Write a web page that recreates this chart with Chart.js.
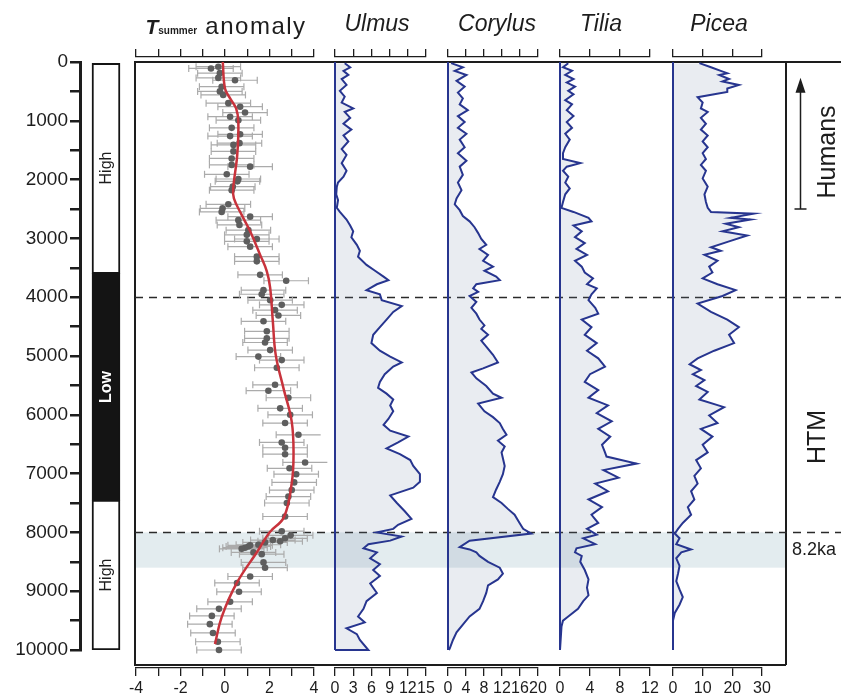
<!DOCTYPE html>
<html>
<head>
<meta charset="utf-8">
<title>Holocene summer temperature and tree pollen</title>
<script src="https://cdn.jsdelivr.net/npm/chart.js@4.4.1/dist/chart.umd.min.js"></script>
<style>
  html, body { margin: 0; padding: 0; background: #fff; }
  #stage { position: relative; width: 841px; height: 699px; overflow: hidden;
           font-family: "Liberation Sans", Arial, sans-serif; color: #1d1d1d; }
  #stage canvas { position: absolute; top: 0; }
  .lbl { position: absolute; white-space: nowrap; line-height: 1; }
  .rot { transform: translate(-50%, -50%) rotate(-90deg); }
  .taxon { font-style: italic; font-size: 23px; top: 12px; transform: translateX(-50%); }
</style>
</head>
<body>
<div id="stage"></div>
<script>
// ---- data (ages in cal yr BP) ----

// insolation / "High-Low" zones on the left column
const zoneBounds = [0, 3600, 7450, 10000];
const zoneLabels = ["High", "Low", "High"];

// dashed event lines, 8.2 ka band and the "Humans" arrow span
const eventAges = [4000, 8000];
const band82 = [8000, 8600];
const humansSpan = [2500, 300];

// T summer anomaly reconstruction: [age, anomaly]
const tempPoints = [
  [80, -0.30], [110, -0.63], [190, -0.23], [270, -0.30], [310, 0.45], [420, -0.15],
  [500, -0.23], [560, -0.08], [700, 0.15], [760, 0.68], [860, 0.90], [930, 0.23],
  [990, 0.60], [1120, 0.30], [1230, 0.68], [1260, 0.23], [1380, 0.65], [1410, 0.38],
  [1520, 0.38], [1640, 0.30], [1750, 0.30], [1780, 1.13], [1910, 0.08], [1990, 0.60],
  [2030, 0.56], [2120, 0.35], [2180, 0.30], [2420, 0.15], [2490, -0.11], [2550, -0.15],
  [2630, 1.13], [2690, 0.60], [2770, 0.65], [2860, 1.05], [2940, 0.98], [3010, 1.43],
  [3050, 0.98], [3140, 1.13], [3310, 1.43], [3390, 1.43], [3620, 1.58], [3720, 2.75],
  [3880, 1.73], [3950, 1.65], [4050, 2.03], [4130, 2.55], [4220, 2.25], [4310, 2.40],
  [4410, 1.73], [4580, 1.88], [4700, 1.88], [4770, 1.80], [4900, 2.03], [5010, 1.50],
  [5070, 2.55], [5200, 2.33], [5490, 2.25], [5590, 1.95], [5710, 2.85], [5890, 2.48],
  [6000, 2.93], [6140, 2.70], [6340, 3.30], [6470, 2.55], [6560, 2.70], [6670, 2.70],
  [6810, 3.60], [6910, 2.90], [7010, 3.20], [7150, 3.11], [7280, 3.00], [7390, 2.85],
  [7500, 2.78], [7730, 2.70], [7980, 2.55], [8050, 2.95], [8100, 2.70], [8130, 2.15],
  [8150, 2.48], [8170, 1.80], [8210, 1.50], [8220, 1.13], [8240, 1.05], [8260, 0.90],
  [8280, 0.75], [8340, 1.28], [8370, 1.65], [8510, 1.73], [8600, 1.80], [8750, 1.13],
  [8860, 0.54], [9010, 0.63], [9180, 0.23], [9300, -0.27], [9420, -0.59], [9560, -0.68],
  [9710, -0.54], [9860, -0.32], [10000, -0.27]
];
const tempErr = 1.0;

// smoothed trend (red line): [age, anomaly]
const tempTrend = [
  [0, -0.10], [450, 0.00], [620, 0.23], [790, 0.50], [1020, 0.60], [1580, 0.55],
  [2150, 0.37], [2320, 0.40], [2600, 0.75], [2880, 1.13], [3280, 1.58], [3560, 1.88],
  [3840, 2.03], [4410, 2.15], [4980, 2.28], [5550, 2.63], [6120, 3.00], [6680, 3.08],
  [7160, 3.00], [7740, 2.65], [8000, 2.00], [8300, 1.50], [8860, 0.53], [9440, -0.15],
  [9900, -0.45]
];

// pollen percentages: [age, %]
const ulmus = [
  [20, 1.6], [90, 2.5], [150, 1.4], [220, 2.2], [290, 1.1], [390, 1.9], [490, 0.8],
  [590, 1.6], [690, 1.1], [790, 3.0], [850, 1.6], [950, 2.5], [1050, 1.4], [1150, 2.7],
  [1250, 1.4], [1350, 2.2], [1480, 1.1], [1580, 1.9], [1720, 1.1], [1850, 1.9], [1950, 1.4],
  [2050, 0.5], [2120, 0.3], [2250, 0.2], [2350, 0.5], [2480, 0.3], [2550, 0.8], [2680, 1.9],
  [2780, 2.5], [2880, 3.0], [2980, 2.7], [3110, 3.6], [3210, 4.1], [3310, 3.8], [3450, 5.2],
  [3550, 6.6], [3650, 8.0], [3710, 8.8], [3780, 6.9], [3880, 5.2], [3950, 7.4], [4050, 7.7],
  [4150, 11.0], [4250, 9.6], [4380, 8.5], [4510, 7.4], [4640, 6.3], [4780, 6.0], [4910, 7.4],
  [5010, 9.1], [5110, 11.0], [5180, 9.6], [5310, 8.2], [5440, 7.4], [5540, 7.1], [5640, 8.5],
  [5740, 9.6], [5840, 9.1], [5940, 9.6], [6070, 8.8], [6170, 8.0], [6270, 9.1], [6370, 12.1],
  [6470, 10.4], [6570, 8.5], [6670, 10.7], [6770, 12.4], [6870, 12.9], [7010, 14.0],
  [7140, 14.0], [7240, 12.9], [7370, 9.1], [7500, 10.2], [7640, 11.5], [7770, 12.6],
  [7870, 10.4], [7940, 9.6], [8000, 6.9], [8070, 11.0], [8140, 9.1], [8200, 5.5], [8270, 4.7],
  [8340, 6.9], [8440, 5.8], [8540, 7.4], [8640, 6.3], [8740, 7.4], [8870, 5.8], [9030, 6.9],
  [9170, 5.2], [9300, 4.7], [9430, 3.8], [9530, 4.9], [9630, 1.9], [9730, 3.6], [9830, 4.1],
  [10000, 5.5], [10000, 0]
];

const corylus = [
  [20, 0.7], [90, 3.3], [150, 1.5], [220, 4.1], [320, 1.9], [420, 3.7], [520, 2.2],
  [620, 3.3], [720, 2.6], [820, 4.4], [920, 2.2], [1020, 3.7], [1120, 2.2], [1220, 4.1],
  [1320, 2.6], [1450, 3.7], [1550, 2.2], [1680, 4.1], [1780, 2.6], [1920, 3.3], [2050, 2.2],
  [2180, 3.0], [2320, 1.9], [2420, 1.5], [2520, 2.6], [2620, 3.3], [2710, 4.8], [2810, 5.9],
  [2910, 6.7], [3010, 7.4], [3110, 8.5], [3180, 7.0], [3280, 8.9], [3380, 7.8], [3480, 10.0],
  [3550, 8.1], [3650, 10.7], [3710, 11.5], [3780, 6.3], [3850, 5.6], [3910, 6.7], [3980, 4.8],
  [4080, 6.3], [4180, 5.2], [4280, 6.3], [4380, 7.0], [4480, 8.1], [4540, 7.4], [4640, 8.9],
  [4740, 7.4], [4840, 8.5], [4980, 10.0], [5110, 11.1], [5210, 7.8], [5280, 5.2], [5380, 6.3],
  [5510, 8.5], [5640, 10.0], [5710, 11.9], [5810, 6.7], [5940, 8.1], [6040, 10.0], [6140, 11.5],
  [6240, 12.2], [6340, 13.0], [6440, 11.1], [6540, 12.6], [6640, 11.9], [6740, 12.2],
  [6870, 12.6], [7010, 12.2], [7140, 11.5], [7270, 10.7], [7400, 10.0], [7500, 11.9],
  [7600, 13.3], [7700, 14.8], [7840, 15.9], [7940, 16.7], [8020, 18.5], [8140, 4.8],
  [8250, 2.6], [8290, 4.8], [8340, 6.3], [8400, 7.0], [8500, 8.9], [8600, 11.5], [8700, 12.2],
  [8800, 11.1], [8900, 8.9], [9030, 8.5], [9170, 7.8], [9300, 7.0], [9430, 4.8], [9570, 3.3],
  [9700, 1.9], [9830, 1.1], [9970, 0.4], [10000, 0.2]
];

const tilia = [
  [20, 1.1], [90, 0.4], [150, 1.6], [220, 0.7], [290, 1.8], [350, 0.9], [420, 2.0],
  [490, 1.1], [550, 1.8], [650, 0.7], [720, 1.6], [820, 0.9], [920, 1.8], [1020, 0.9],
  [1120, 1.6], [1220, 0.7], [1320, 1.3], [1450, 0.7], [1550, 0.4], [1650, 0.4], [1720, 2.7],
  [1780, 0.9], [1850, 0.4], [1950, 1.1], [2050, 0.7], [2150, 1.3], [2250, 0.7], [2380, 0.4],
  [2480, 0.2], [2550, 1.8], [2650, 3.8], [2710, 4.2], [2780, 1.8], [2880, 2.9], [2980, 2.0],
  [3080, 3.3], [3180, 2.2], [3280, 3.6], [3380, 2.0], [3480, 2.9], [3580, 3.3], [3680, 4.4],
  [3780, 3.6], [3850, 4.9], [3950, 4.2], [4050, 3.8], [4180, 4.7], [4280, 5.1], [4380, 2.9],
  [4510, 4.2], [4640, 3.3], [4780, 4.9], [4910, 3.6], [5040, 5.1], [5180, 6.0], [5310, 4.0],
  [5440, 3.3], [5580, 5.1], [5710, 3.8], [5840, 6.4], [5970, 4.9], [6110, 6.9], [6240, 5.1],
  [6370, 6.7], [6510, 5.6], [6640, 6.0], [6710, 6.2], [6830, 10.2], [6940, 5.8], [7070, 7.8],
  [7170, 4.7], [7300, 6.4], [7440, 3.8], [7570, 5.6], [7700, 4.2], [7840, 5.1], [7940, 3.6],
  [8040, 4.9], [8100, 3.1], [8200, 4.7], [8270, 2.2], [8340, 2.0], [8400, 2.9], [8500, 2.7],
  [8640, 3.3], [8800, 3.8], [8940, 3.6], [9070, 3.8], [9170, 3.1], [9300, 2.4], [9430, 1.1],
  [9500, 0.4], [9600, 0.2], [10000, 0]
];

const picea = [
  [20, 8.9], [90, 12.8], [150, 16.1], [190, 18.3], [220, 15.6], [290, 18.9], [330, 16.7],
  [390, 22.2], [450, 18.3], [510, 18.3], [550, 13.9], [600, 8.3], [690, 10.0], [790, 9.4],
  [850, 11.7], [950, 9.4], [1050, 11.1], [1150, 9.4], [1250, 11.7], [1350, 10.0], [1450, 11.7],
  [1550, 10.0], [1650, 11.1], [1750, 9.4], [1850, 11.1], [1980, 10.0], [2120, 11.7],
  [2250, 10.6], [2380, 11.1], [2480, 11.7], [2550, 12.8], [2580, 27.2], [2650, 19.4],
  [2680, 26.1], [2750, 17.8], [2810, 22.2], [2880, 16.7], [2950, 25.0], [3050, 18.9],
  [3150, 12.8], [3210, 16.1], [3280, 10.6], [3380, 15.0], [3480, 12.2], [3580, 13.3],
  [3680, 10.0], [3780, 15.0], [3880, 21.1], [3980, 16.7], [4110, 8.3], [4250, 12.8],
  [4380, 18.3], [4510, 22.2], [4640, 18.9], [4780, 20.6], [4910, 13.9], [5040, 8.3],
  [5140, 5.6], [5240, 9.4], [5310, 6.7], [5410, 10.6], [5510, 7.8], [5610, 11.7], [5740, 8.9],
  [5870, 17.2], [6010, 12.2], [6140, 15.0], [6240, 9.4], [6370, 13.3], [6510, 10.0],
  [6640, 11.7], [6770, 7.8], [6910, 9.4], [7040, 7.2], [7170, 8.3], [7300, 6.1], [7440, 7.2],
  [7570, 5.0], [7700, 6.1], [7840, 3.3], [7940, 1.7], [8020, 0.6], [8100, 2.2], [8200, 1.1],
  [8290, 6.1], [8340, 2.8], [8440, 1.1], [8570, 2.2], [8700, 1.7], [8830, 1.1], [8970, 2.2],
  [9100, 3.3], [9230, 2.2], [9370, 0.6], [9500, 0], [10000, 0]
];

// x-axis ranges of each panel
const tempAxis = { min: -4, max: 4, step: 1 };
const taxa = [
  { name: "Ulmus",   series: ulmus,   max: 15, step: 3 },
  { name: "Corylus", series: corylus, max: 20, step: 4 },
  { name: "Tilia",   series: tilia,   max: 12, step: 4 },
  { name: "Picea",   series: picea,   max: 30, step: 10 }
];

// ---- layout (pixels) ----
const W = 841, H = 699;
const PX_TOP = 62, PX_BOTTOM = 650;      // where age 0 and 10000 sit
const AXIS_TOP = 57, AXIS_BOTTOM = 668;  // top / bottom x-axis lines
const FRAME = { left: 135, right: 786, top: 62, bottom: 665, lineEnd: 841 };
const tempBox = [136, 314];
const taxonBox = { Ulmus: [335, 426], Corylus: [448, 538], Tilia: [560, 650], Picea: [673, 762] };
const taxonTitleX = { Ulmus: 377, Corylus: 497, Tilia: 601, Picea: 719 };

const INK = "#1d1d1d";
const POLLEN_LINE = "#27358f";
const POLLEN_FILL = "rgba(110, 125, 160, 0.15)";

Chart.defaults.font.family = '"Liberation Sans", Arial, sans-serif';
Chart.defaults.color = INK;

const stage = document.getElementById("stage");
const yrPerPx = 10000 / (PX_BOTTOM - PX_TOP);
const yPx = (age) => PX_TOP + age / yrPerPx;

function makeCanvas(left, width) {
  const c = document.createElement("canvas");
  c.width = width;
  c.height = H;
  c.style.left = left + "px";
  c.style.width = width + "px";
  c.style.height = H + "px";
  stage.appendChild(c);
  return c;
}

function addLabel(text, x, y, cls, style) {
  const d = document.createElement("div");
  d.className = "lbl " + (cls || "");
  d.textContent = text;
  d.style.left = x + "px";
  d.style.top = y + "px";
  Object.assign(d.style, style || {});
  stage.appendChild(d);
  return d;
}

const baseOptions = {
  responsive: false,
  animation: false,
  events: [],
  plugins: { legend: { display: false }, tooltip: { enabled: false } }
};

// ---- background: band, frame, dashed event lines, humans arrow ----
const decor = {
  id: "decor",
  beforeDraw(chart) {
    const { ctx, scales: { y } } = chart;
    ctx.save();
    // 8.2 ka band
    const b0 = y.getPixelForValue(band82[0]);
    const b1 = y.getPixelForValue(band82[1]);
    ctx.fillStyle = "#e3ecef";
    ctx.fillRect(FRAME.left, b0, FRAME.right - FRAME.left, b1 - b0);

    // frame
    ctx.strokeStyle = INK;
    ctx.lineWidth = 2;
    ctx.beginPath();
    ctx.moveTo(FRAME.lineEnd, FRAME.top);
    ctx.lineTo(FRAME.left, FRAME.top);
    ctx.lineTo(FRAME.left, FRAME.bottom);
    ctx.lineTo(FRAME.right, FRAME.bottom);
    ctx.moveTo(FRAME.right, FRAME.top);
    ctx.lineTo(FRAME.right, FRAME.bottom);
    ctx.stroke();

    // dashed lines
    ctx.setLineDash([8, 6]);
    ctx.lineWidth = 1.5;
    ctx.strokeStyle = "#2a2a2a";
    eventAges.forEach((a) => {
      const py = Math.round(y.getPixelForValue(a)) + 0.5;
      ctx.beginPath();
      ctx.moveTo(FRAME.left, py);
      ctx.lineTo(FRAME.lineEnd, py);
      ctx.stroke();
    });
    ctx.setLineDash([]);

    // humans arrow
    const ax = 800.5;
    const yLow = y.getPixelForValue(humansSpan[0]);
    const yHigh = y.getPixelForValue(humansSpan[1]);
    ctx.lineWidth = 1.5;
    ctx.strokeStyle = INK;
    ctx.beginPath();
    ctx.moveTo(ax, yLow);
    ctx.lineTo(ax, yHigh + 10);
    ctx.moveTo(ax - 6, yLow);
    ctx.lineTo(ax + 6, yLow);
    ctx.stroke();
    ctx.fillStyle = INK;
    ctx.beginPath();
    ctx.moveTo(ax, yHigh - 2);
    ctx.lineTo(ax - 5, yHigh + 13);
    ctx.lineTo(ax + 5, yHigh + 13);
    ctx.closePath();
    ctx.fill();
    ctx.restore();
  }
};

new Chart(makeCanvas(0, W), {
  type: "scatter",
  data: { datasets: [] },
  options: {
    ...baseOptions,
    layout: { padding: { top: PX_TOP, bottom: H - PX_BOTTOM, left: 0, right: 0 } },
    scales: {
      x: { display: false, min: 0, max: W },
      y: { display: false, min: 0, max: 10000, reverse: true }
    }
  },
  plugins: [decor]
});

// ---- age axis with High / Low column ----
new Chart(makeCanvas(0, FRAME.left), {
  type: "bar",
  data: {
    labels: ["zone"],
    datasets: zoneLabels.map((name, i) => ({
      data: [[zoneBounds[i], zoneBounds[i + 1]]],
      backgroundColor: name === "Low" ? "#141414" : "#ffffff",
      borderColor: "#141414",
      borderWidth: 2,
      borderSkipped: false,
      barThickness: 28,
      grouped: false
    }))
  },
  options: {
    ...baseOptions,
    layout: { padding: { top: PX_TOP, bottom: H - PX_BOTTOM, left: 0, right: 3 } },
    scales: {
      x: { display: false },
      y: {
        min: 0, max: 10000, reverse: true,
        afterFit: (s) => { s.width = 80; },
        ticks: {
          stepSize: 500, autoSkip: false, padding: 2,
          font: { size: 19 }, color: INK,
          callback: (v) => (v % 1000 === 0 ? String(v) : "")
        },
        grid: { drawOnChartArea: false, tickLength: 10, color: INK, lineWidth: 2.5 },
        border: { color: INK, width: 3 }
      }
    }
  }
});

zoneLabels.forEach((name, i) => {
  const mid = yPx((zoneBounds[i] + zoneBounds[i + 1]) / 2);
  addLabel(name, 106, mid, "rot", name === "Low"
    ? { color: "#fff", fontWeight: "bold", fontSize: "16px" }
    : { fontSize: "16px" });
});

// ---- one Chart per panel ----
function panelChart(box, axis, datasets, labelCb, indexY) {
  const pad = 22;
  const canvas = makeCanvas(box[0] - pad, box[1] - box[0] + 2 * pad);
  const xCommon = {
    type: "linear", min: axis.min, max: axis.max,
    grid: { drawOnChartArea: false, tickLength: 8, color: INK, lineWidth: 1.3 },
    border: { color: INK, width: 1.3 }
  };
  return new Chart(canvas, {
    type: indexY ? "line" : "scatter",
    data: { datasets },
    options: {
      ...baseOptions,
      indexAxis: indexY ? "y" : "x",
      layout: { padding: { left: pad, right: pad, top: AXIS_TOP - 8, bottom: 0 } },
      scales: {
        x: {
          ...xCommon, position: "bottom",
          afterFit: (s) => { s.height = H - AXIS_BOTTOM; },
          ticks: {
            stepSize: axis.step, autoSkip: false, maxRotation: 0, minRotation: 0,
            padding: 3, color: INK, font: { size: 16 }, callback: labelCb
          }
        },
        xTop: {
          ...xCommon, position: "top",
          afterFit: (s) => { s.height = 8; },
          ticks: { stepSize: axis.step, display: false }
        },
        y: {
          type: "linear", display: false, reverse: true,
          min: -(PX_TOP - AXIS_TOP) * yrPerPx,
          max: 10000 + (AXIS_BOTTOM - PX_BOTTOM) * yrPerPx
        }
      }
    }
  });
}

// temperature panel
const errorBars = [];
tempPoints.forEach(([age, t]) => {
  errorBars.push({ x: t - tempErr, y: age }, { x: t + tempErr, y: age }, { x: null, y: null });
});

panelChart(tempBox, tempAxis, [
  {
    label: "trend", xAxisID: "x", yAxisID: "y", order: 0,
    data: tempTrend.map(([age, t]) => ({ x: t, y: age })),
    showLine: true, tension: 0.4, borderColor: "#c8333c", borderWidth: 2.5,
    pointRadius: 0, clip: false
  },
  {
    label: "anomaly", xAxisID: "x", yAxisID: "y", order: 1,
    data: tempPoints.map(([age, t]) => ({ x: t, y: age })),
    pointRadius: 3.3, backgroundColor: "#5e5e5e", borderWidth: 0, clip: false
  },
  {
    label: "error", xAxisID: "x", yAxisID: "y", order: 2,
    data: errorBars,
    showLine: true, spanGaps: false, borderColor: "#ababab", borderWidth: 1.2,
    pointStyle: "line", rotation: 90, pointRadius: 3.5, pointBorderColor: "#ababab",
    pointBorderWidth: 1.2, clip: false
  }
], (v) => (v % 2 === 0 ? String(v) : ""), false);

// pollen panels
taxa.forEach((t) => {
  panelChart(taxonBox[t.name], { min: 0, max: t.max, step: t.step }, [
    {
      label: t.name, xAxisID: "x", yAxisID: "y", order: 1,
      data: t.series.map(([age, v]) => ({ x: v, y: age })),
      borderColor: POLLEN_LINE, borderWidth: 2, backgroundColor: POLLEN_FILL,
      fill: "origin", pointRadius: 0, tension: 0, clip: false
    },
    {
      label: t.name + " zero", xAxisID: "x", yAxisID: "y", order: 0,
      data: [{ x: 0, y: zoneBounds[0] }, { x: 0, y: zoneBounds[zoneBounds.length - 1] }],
      borderColor: POLLEN_LINE, borderWidth: 2, pointRadius: 0, fill: false, clip: false
    }
  ], (v) => String(v), true);
  addLabel(t.name, taxonTitleX[t.name], 12, "taxon");
});

// ---- titles and side annotations ----
const tTitle = document.createElement("div");
tTitle.className = "lbl";
tTitle.style.left = "226px";
tTitle.style.top = "14px";
tTitle.style.transform = "translateX(-50%)";
tTitle.innerHTML =
  '<span style="font-weight:bold;font-style:italic;font-size:21px">T</span>' +
  '<span style="font-weight:bold;font-size:10px">summer</span>' +
  '<span style="font-size:24px;letter-spacing:1.5px"> anomaly</span>';
stage.appendChild(tTitle);

addLabel("Humans", 826, 152, "rot", { fontSize: "25px" });
addLabel("HTM", 816, 437, "rot", { fontSize: "25px" });
addLabel("8.2ka", 792, 540, "", { fontSize: "18px" });
</script>
</body>
</html>
